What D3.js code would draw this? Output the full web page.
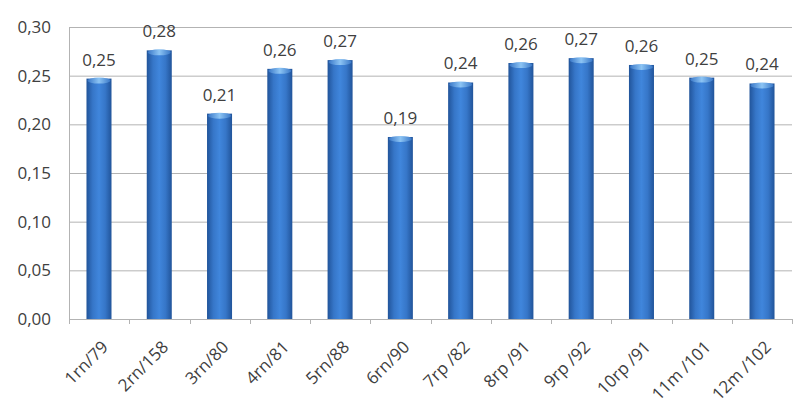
<!DOCTYPE html>
<html><head><meta charset="utf-8">
<script src="https://cdn.jsdelivr.net/npm/d3@7"></script>
<style>body{margin:0;background:#fff}svg{display:block}text{font-family:"Open Sans",Lato,sans-serif;fill:#404040}</style>
</head><body><svg id="c" width="793" height="405"></svg>
<script>
const categories = ["1rn/79","2rn/158","3rn/80","4rn/81","5rn/88","6rn/90","7rp /82","8rp /91","9rp /92","10rp /91","11m /101","12m /102"];
const values = [0.247,0.276,0.211,0.257,0.266,0.187,0.243,0.263,0.268,0.261,0.248,0.242];
const yTicks = [0,0.05,0.10,0.15,0.20,0.25,0.30];

const svg = d3.select("#c");
const m = {l:69, r:792, t:27, b:319};
const x = d3.scaleBand().domain(categories).range([m.l, m.r]).paddingInner(0.585).paddingOuter(0.29);
const y = d3.scaleLinear().domain([0,0.30]).range([m.b, m.t]);
const fmt = v => d3.format(".2f")(v).replace(".", ",");

const defs = svg.append("defs");
const g = defs.append("linearGradient").attr("id","bar").attr("x1","0").attr("x2","1");
[[0,"#21549a"],[0.25,"#3676c8"],[0.5,"#4086dc"],[0.75,"#3676c8"],[1,"#21549a"]].forEach(([o,c])=>g.append("stop").attr("offset",o).attr("stop-color",c));
const gc = defs.append("linearGradient").attr("id","cap").attr("x1","0").attr("x2","1");
[[0,"#3a78c8"],[0.5,"#8cc4f4"],[1,"#3a78c8"]].forEach(([o,c])=>gc.append("stop").attr("offset",o).attr("stop-color",c));

// gridlines
svg.append("g").selectAll("line").data(yTicks).join("line")
  .attr("x1", m.l).attr("x2", m.r).attr("y1", d=>y(d)+0.5).attr("y2", d=>y(d)+0.5)
  .attr("stroke", "#b3b3b3").attr("stroke-width", 1);

// y axis
const ya = svg.append("g").attr("transform",`translate(${m.l},0)`).call(d3.axisLeft(y).tickValues(yTicks).tickFormat(fmt).tickSize(0).tickPadding(18));
ya.select(".domain").attr("stroke","#b3b3b3");
ya.selectAll("text").style("font-size","17px").attr("fill","#404040");

// x axis ticks at band boundaries
const bounds = d3.range(categories.length+1).map(i => m.l + i*(m.r-m.l)/categories.length);
svg.append("g").selectAll("line").data(bounds).join("line")
  .attr("x1", d=>Math.round(d)+0.5).attr("x2", d=>Math.round(d)+0.5).attr("y1", m.b).attr("y2", m.b+5)
  .attr("stroke","#b3b3b3");

// bars
const bars = svg.append("g").selectAll("g").data(categories).join("g");
bars.append("rect").attr("x", d=>x(d)).attr("width", x.bandwidth())
  .attr("y", (d,i)=>y(values[i])).attr("height", (d,i)=>y(0)-y(values[i])).attr("fill","url(#bar)");
bars.append("ellipse").attr("cx", d=>x(d)+x.bandwidth()/2).attr("cy",(d,i)=>y(values[i])+2)
  .attr("rx", x.bandwidth()/2-1).attr("ry", 3).attr("fill","url(#cap)");

// value labels
svg.append("g").selectAll("text").data(categories).join("text")
  .attr("x", d=>x(d)+x.bandwidth()/2).attr("y",(d,i)=>y(values[i])-13)
  .attr("text-anchor","middle").style("font-size","17px").text((d,i)=>fmt(values[i]));

// x labels
svg.append("g").selectAll("text").data(categories).join("text")
  .attr("transform", d=>`translate(${x(d)+x.bandwidth()/2+6},${m.b+25}) rotate(-45)`)
  .attr("text-anchor","end").attr("dy","0.35em").style("font-size","17px").text(d=>d);
</script></body></html>
